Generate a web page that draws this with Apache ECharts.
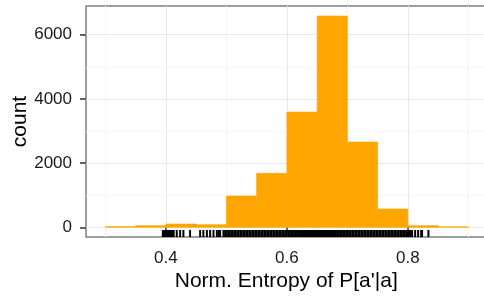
<!DOCTYPE html>
<html>
<head>
<meta charset="utf-8">
<script src="https://cdn.jsdelivr.net/npm/echarts@6/dist/echarts.min.js"></script>
<style>
  html, body { margin: 0; padding: 0; background: #fff; }
  #chart { width: 484px; height: 297px; }
</style>
</head>
<body>
<div id="chart"></div>
<script>
// histogram bins (binwidth 0.05)
const binStart = [0.30, 0.35, 0.40, 0.45, 0.50, 0.55, 0.60, 0.65, 0.70, 0.75, 0.80, 0.85]
const binEnd = [0.35, 0.40, 0.45, 0.50, 0.55, 0.60, 0.65, 0.70, 0.75, 0.80, 0.85, 0.90]
const counts = [20, 50, 103, 81, 975, 1682, 3592, 6583, 2657, 570, 50, 15]

// rug positions
const rugValues = [
  0.395, 0.397, 0.399, 0.401, 0.403, 0.405, 0.407, 0.409, 0.411, 0.413,
  0.418, 0.4236, 0.429, 0.440,
  0.4567, 0.462, 0.4678, 0.4732, 0.4787, 0.4843, 0.487, 0.4897, 0.4952,
  0.498, 0.500, 0.503, 0.505, 0.508, 0.510, 0.513, 0.515, 0.518, 0.520,
  0.523, 0.525, 0.528, 0.530, 0.533, 0.535, 0.538, 0.540, 0.543, 0.545,
  0.548, 0.550, 0.553, 0.555, 0.558, 0.560, 0.563, 0.565, 0.568, 0.570,
  0.573, 0.575, 0.578, 0.580, 0.583, 0.585, 0.588, 0.590, 0.593, 0.595,
  0.598, 0.600, 0.603, 0.605, 0.608, 0.610, 0.613, 0.615, 0.618, 0.620,
  0.623, 0.625, 0.628, 0.630, 0.633, 0.635, 0.638, 0.640, 0.643, 0.645,
  0.648, 0.650, 0.653, 0.655, 0.658, 0.660, 0.663, 0.665, 0.668, 0.670,
  0.673, 0.675, 0.678, 0.680, 0.683, 0.685, 0.688, 0.690, 0.693, 0.695,
  0.698, 0.700, 0.703, 0.705, 0.708, 0.710, 0.713, 0.715, 0.718, 0.720,
  0.723, 0.725, 0.728, 0.730, 0.733, 0.735, 0.738, 0.740, 0.743, 0.745,
  0.748, 0.750, 0.753, 0.755, 0.758, 0.760, 0.763, 0.765, 0.768, 0.770,
  0.773, 0.775, 0.778, 0.780, 0.783, 0.785, 0.788, 0.790, 0.793, 0.795,
  0.798, 0.800, 0.802, 0.804,
  0.807, 0.812, 0.817, 0.822, 0.8235, 0.834
]

const xTicks = [0.4, 0.6, 0.8]
const xMinorTicks = [0.3, 0.5, 0.7, 0.9]
const yTicks = [0, 2000, 4000, 6000]
const yMinorTicks = [1000, 3000, 5000]

const X_MIN = 0.268
const X_MAX = 0.93
const Y_MIN = -302
const Y_MAX = 6894

const font = 'Liberation Sans'

const chart = echarts.init(document.getElementById('chart'), null, { renderer: 'canvas' })

const options = {
  backgroundColor: '#fff',
  animation: false,
  textStyle: { fontFamily: font },
  grid: {
    left: 86,
    top: 6,
    width: 400.5,
    height: 231,
    outerBoundsMode: 'none',
    containLabel: false,
    show: true,
    backgroundColor: '#fff',
    borderColor: '#7F7F7F',
    borderWidth: 1.5,
  },
  xAxis: [
    {
      // minor grid only
      type: 'value',
      min: X_MIN,
      max: X_MAX,
      position: 'top',
      axisLine: { show: false },
      axisLabel: { show: false },
      axisTick: { show: false, customValues: xMinorTicks },
      splitLine: { show: true, lineStyle: { color: '#F5F5F5', width: 1 } },
    },
    {
      type: 'value',
      min: X_MIN,
      max: X_MAX,
      position: 'bottom',
      name: "Norm. Entropy of P[a'|a]",
      nameLocation: 'middle',
      nameGap: 34,
      nameMoveOverlap: false,
      nameTextStyle: { fontSize: 21, color: '#000', fontFamily: font },
      axisLine: { show: false },
      axisTick: {
        show: true,
        customValues: xTicks,
        length: 6,
        lineStyle: { color: '#333', width: 1.5 },
      },
      axisLabel: {
        customValues: xTicks,
        fontSize: 17,
        color: '#1a1a1a',
        margin: 13,
        formatter: (v) => v.toFixed(1),
      },
      splitLine: { show: true, lineStyle: { color: '#E8E8E8', width: 1 } },
    },
  ],
  yAxis: [
    {
      type: 'value',
      min: Y_MIN,
      max: Y_MAX,
      position: 'right',
      axisLine: { show: false },
      axisLabel: { show: false },
      axisTick: { show: false, customValues: yMinorTicks },
      splitLine: { show: true, lineStyle: { color: '#F5F5F5', width: 1 } },
    },
    {
      type: 'value',
      min: Y_MIN,
      max: Y_MAX,
      position: 'left',
      name: 'count',
      nameLocation: 'middle',
      nameGap: 55,
      nameMoveOverlap: false,
      nameRotate: 90,
      nameTextStyle: { fontSize: 21, color: '#000', fontFamily: font },
      axisLine: { show: false },
      axisTick: {
        show: true,
        customValues: yTicks,
        length: 6,
        lineStyle: { color: '#333', width: 1.5 },
      },
      axisLabel: {
        customValues: yTicks,
        fontSize: 17,
        color: '#1a1a1a',
        margin: 14,
        formatter: (v) => String(v),
      },
      splitLine: { show: true, lineStyle: { color: '#E8E8E8', width: 1 } },
    },
  ],
  series: [
    {
      type: 'custom',
      name: 'hist',
      xAxisIndex: 1,
      yAxisIndex: 1,
      encode: { x: [0, 1], y: 2 },
      data: binStart.map((s, i) => [s, binEnd[i], counts[i]]),
      renderItem: (params, api) => {
        const p0 = api.coord([api.value(0), 0])
        const p1 = api.coord([api.value(1), api.value(2)])
        return {
          type: 'rect',
          shape: { x: p0[0], y: p1[1], width: p1[0] - p0[0], height: p0[1] - p1[1] },
          style: { fill: '#FFA500', stroke: '#FFA500', lineWidth: 0.6 },
        }
      },
    },
    {
      type: 'custom',
      name: 'rug',
      xAxisIndex: 1,
      yAxisIndex: 1,
      encode: { x: 0, y: 1 },
      data: rugValues.map((v) => [v, Y_MIN]),
      renderItem: (params, api) => {
        const p = api.coord([api.value(0), Y_MIN])
        const bottom = params.coordSys.y + params.coordSys.height
        return {
          type: 'line',
          shape: { x1: p[0], y1: bottom, x2: p[0], y2: bottom - 7 },
          style: { stroke: '#000', lineWidth: 2 },
        }
      },
    },
  ],
}

chart.setOption(options)
</script>
</body>
</html>
